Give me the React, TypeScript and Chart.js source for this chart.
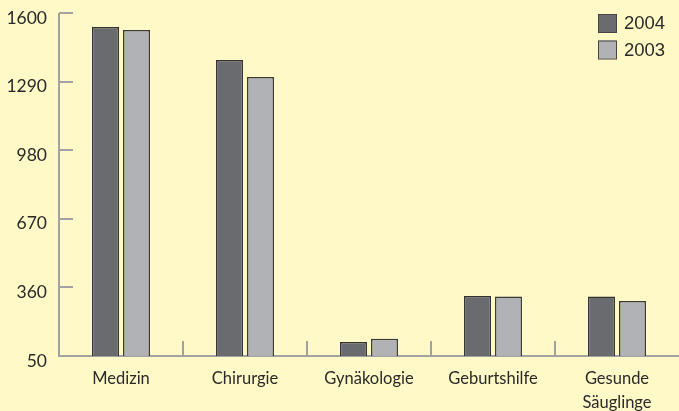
import React, { useEffect, useRef } from "react";
import { Chart, registerables } from "chart.js";

Chart.register(...registerables);

const categories: (string | string[])[] = [
  "Medizin",
  "Chirurgie",
  "Gynäkologie",
  "Geburtshilfe",
  ["Gesunde", "Säuglinge"],
];
const seriesNames = ["2004", "2003"];
const values2004 = [1537, 1388, 113, 321, 319];
const values2003 = [1523, 1311, 128, 319, 298];
const yTicks = [50, 360, 670, 980, 1290, 1600];

const BG = "#fef9c6";
const DARK = "#6a6b6f";
const LIGHT = "#b1b2b6";
const AXIS = "#a2a2a2";
const TEXT = "#2a2a2a";

const axesPlugin = {
  id: "customAxes",
  beforeDraw(chart: any) {
    const { ctx, width, height } = chart;
    ctx.save();
    ctx.fillStyle = BG;
    ctx.fillRect(0, 0, width, height);
    ctx.restore();
  },
  beforeDatasetsDraw(chart: any) {
    const { ctx, chartArea, scales } = chart;
    const x = scales.x;
    const y = scales.y;
    ctx.save();
    ctx.strokeStyle = AXIS;
    ctx.lineWidth = 2;
    ctx.beginPath();
    ctx.moveTo(chartArea.left, chartArea.top);
    ctx.lineTo(chartArea.left, chartArea.bottom);
    ctx.lineTo(chartArea.right, chartArea.bottom);
    ctx.stroke();
    yTicks.forEach((v) => {
      const py = Math.round(y.getPixelForValue(v));
      ctx.beginPath();
      ctx.moveTo(chartArea.left, py);
      ctx.lineTo(chartArea.left + 14, py);
      ctx.stroke();
    });
    for (let i = 0; i < categories.length - 1; i++) {
      const px = Math.round((x.getPixelForValue(i) + x.getPixelForValue(i + 1)) / 2);
      ctx.beginPath();
      ctx.moveTo(px, chartArea.bottom);
      ctx.lineTo(px, chartArea.bottom - 15);
      ctx.stroke();
    }
    ctx.restore();
  },
  afterDraw(chart: any) {
    const { ctx } = chart;
    const colors = [DARK, LIGHT];
    ctx.save();
    ctx.font = "18.5px 'Liberation Sans', Arial, sans-serif";
    ctx.textBaseline = "middle";
    ctx.textAlign = "left";
    seriesNames.forEach((name, i) => {
      const top = 14 + i * 26.5;
      ctx.fillStyle = colors[i];
      ctx.fillRect(598, top, 18, 18);
      ctx.strokeStyle = "#454545";
      ctx.lineWidth = 1;
      ctx.strokeRect(598.5, top + 0.5, 18, 18);
      ctx.fillStyle = TEXT;
      ctx.fillText(name, 624, top + 10);
    });
    ctx.restore();
  },
};

export default function App() {
  const ref = useRef<HTMLCanvasElement | null>(null);
  useEffect(() => {
    document.body.style.margin = "0";
    document.body.style.background = BG;
    const chart = new Chart(ref.current as HTMLCanvasElement, {
      type: "bar",
      data: {
        labels: categories,
        datasets: [
          {
            label: seriesNames[0],
            data: values2004,
            backgroundColor: DARK,
            borderColor: "#333333",
            borderWidth: 1.5,
            barPercentage: 0.87,
            categoryPercentage: 0.5,
          },
          {
            label: seriesNames[1],
            data: values2003,
            backgroundColor: LIGHT,
            borderColor: "#3a3a3a",
            borderWidth: 1.5,
            barPercentage: 0.87,
            categoryPercentage: 0.5,
          },
        ],
      },
      options: {
        animation: false,
        responsive: false,
        maintainAspectRatio: false,
        layout: { padding: { top: 13, left: 0, right: 0, bottom: 0 } },
        plugins: { legend: { display: false }, tooltip: { enabled: false } },
        scales: {
          x: {
            grid: { display: false, drawTicks: false },
            border: { display: false },
            ticks: {
              color: TEXT,
              padding: 10,
              font: { family: "Lato", size: 16.5, lineHeight: 1.5 },
              maxRotation: 0,
              autoSkip: false,
            },
            afterFit(scale: any) {
              scale.height = 55;
              scale.paddingLeft = 0;
              scale.paddingRight = 0;
            },
          },
          y: {
            min: 50,
            max: 1600,
            grid: { display: false, drawTicks: false },
            border: { display: false },
            afterBuildTicks(scale: any) {
              scale.ticks = yTicks.map((v) => ({ value: v }));
            },
            ticks: {
              color: TEXT,
              padding: 12,
              labelOffset: 5,
              font: { family: "Lato", size: 17.5 },
              callback: (v: any) => String(v),
            },
            afterFit(scale: any) {
              scale.width = 59;
              scale.paddingTop = 0;
              scale.paddingBottom = 0;
            },
          },
        },
      },
      plugins: [axesPlugin],
    });
    return () => chart.destroy();
  }, []);
  return (
    <div style={{ width: 679, height: 411, background: BG }}>
      <canvas ref={ref} width={679} height={411} style={{ display: "block" }} />
    </div>
  );
}
